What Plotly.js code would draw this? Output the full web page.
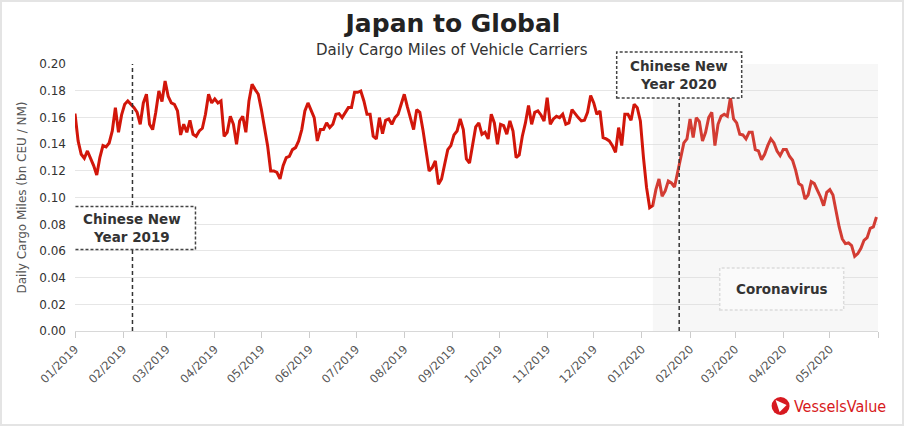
<!DOCTYPE html>
<html>
<head>
<meta charset="utf-8">
<script src="https://cdn.plot.ly/plotly-3.0.1.min.js"></script>
<style>
  html, body { margin: 0; padding: 0; background: #fff; }
  #wrap { position: relative; width: 906px; height: 427px; }
  #chart { width: 906px; height: 427px; }
  #frame { position: absolute; left: 0; top: 0; width: 904px; height: 426px; box-sizing: border-box;
           border: 2px solid #e4e4e4; pointer-events: none; }
</style>
</head>
<body>
<div id="wrap"><div id="chart"></div><div id="frame"></div></div>
<script>
// ---- data ----
const seriesStart = '2019-01-01';   // first observation
const sampleStepDays = 2;           // one value every two days
const cargoMiles = [
  0.163, 0.1425, 0.1325, 0.1295, 0.135, 0.130, 0.124, 0.117, 0.130, 0.139,
  0.138, 0.141, 0.150, 0.1675, 0.149, 0.162, 0.170, 0.1725, 0.170, 0.1675,
  0.164, 0.155, 0.171, 0.1775, 0.155, 0.151, 0.164, 0.180, 0.172, 0.1875,
  0.176, 0.171, 0.170, 0.165, 0.147, 0.155, 0.149, 0.158, 0.1475, 0.146,
  0.150, 0.152, 0.1625, 0.1775, 0.171, 0.174, 0.171, 0.1725, 0.146, 0.149,
  0.161, 0.155, 0.140, 0.1575, 0.161, 0.149, 0.1725, 0.185, 0.181, 0.1775,
  0.166, 0.151, 0.139, 0.120, 0.120, 0.119, 0.114, 0.124, 0.130, 0.131,
  0.136, 0.1375, 0.1425, 0.151, 0.165, 0.171, 0.166, 0.160, 0.1425, 0.151,
  0.151, 0.156, 0.1525, 0.155, 0.1625, 0.163, 0.160, 0.164, 0.1675, 0.1675,
  0.179, 0.179, 0.180, 0.1725, 0.1625, 0.1625, 0.146, 0.144, 0.160, 0.148,
  0.158, 0.159, 0.155, 0.160, 0.1625, 0.170, 0.1775, 0.168, 0.159, 0.151,
  0.166, 0.164, 0.151, 0.136, 0.120, 0.1225, 0.1275, 0.110, 0.114, 0.125,
  0.136, 0.139, 0.147, 0.150, 0.159, 0.151, 0.129, 0.126, 0.140, 0.153,
  0.156, 0.1475, 0.149, 0.144, 0.1625, 0.156, 0.140, 0.155, 0.154, 0.1475,
  0.1575, 0.150, 0.130, 0.132, 0.146, 0.156, 0.169, 0.155, 0.164, 0.165,
  0.162, 0.1575, 0.175, 0.155, 0.159, 0.161, 0.160, 0.1625, 0.155, 0.156,
  0.166, 0.1625, 0.160, 0.1575, 0.158, 0.164, 0.1765, 0.171, 0.1625, 0.165,
  0.145, 0.144, 0.1425, 0.139, 0.134, 0.1525, 0.139, 0.1625, 0.1625, 0.158,
  0.170, 0.1675, 0.1575, 0.130, 0.1075, 0.0925, 0.094, 0.106, 0.114, 0.101,
  0.105, 0.1125, 0.111, 0.108, 0.1195, 0.130, 0.141, 0.144, 0.159, 0.145,
  0.160, 0.157, 0.1425, 0.149, 0.160, 0.164, 0.139, 0.155, 0.161, 0.1625,
  0.161, 0.175, 0.159, 0.156, 0.1475, 0.147, 0.144, 0.149, 0.149, 0.136,
  0.135, 0.1285, 0.1325, 0.139, 0.144, 0.141, 0.135, 0.1315, 0.136, 0.136,
  0.131, 0.128, 0.1205, 0.1105, 0.109, 0.099, 0.102, 0.112, 0.1105, 0.1055,
  0.1005, 0.094, 0.104, 0.106, 0.102, 0.090, 0.078, 0.069, 0.0655, 0.066,
  0.064, 0.056, 0.058, 0.062, 0.068, 0.070, 0.077, 0.078, 0.0855
];
const tickMonths = ['2019-01-01','2019-02-01','2019-03-01','2019-04-01','2019-05-01','2019-06-01',
  '2019-07-01','2019-08-01','2019-09-01','2019-10-01','2019-11-01','2019-12-01',
  '2020-01-01','2020-02-01','2020-03-01','2020-04-01','2020-05-01','2020-06-01'];
const tickLabels = ['01/2019','02/2019','03/2019','04/2019','05/2019','06/2019',
  '07/2019','08/2019','09/2019','10/2019','11/2019','12/2019',
  '01/2020','02/2020','03/2020','04/2020','05/2020',''];
const yTicks = [0, 0.02, 0.04, 0.06, 0.08, 0.10, 0.12, 0.14, 0.16, 0.18, 0.20];
const xRange = ['2019-01-01', '2020-06-01'];
const cny2019 = '2019-02-07';
const cny2020 = '2020-01-25';
const coronaStart = '2020-01-08';
const coronaLabelDate = '2020-03-31';

// ---- build dates for the samples ----
function addDays(iso, n) {
  const d = new Date(iso + 'T00:00:00Z');
  d.setUTCDate(d.getUTCDate() + n);
  return d.toISOString().slice(0, 10);
}
const dates = cargoMiles.map((_, i) => addDays(seriesStart, i * sampleStepDays));

const RED = '#d2160a';
const FONT = 'DejaVu Sans, Verdana, sans-serif';

const trace = {
  x: dates, y: cargoMiles, type: 'scatter', mode: 'lines',
  line: { color: RED, width: 3 }, hoverinfo: 'x+y'
};

const shapes = [
  // coronavirus period shading (drawn over the line so it is tinted)
  { type: 'rect', layer: 'above', xref: 'x', yref: 'paper', x0: coronaStart, x1: xRange[1], y0: 0, y1: 1,
    fillcolor: 'rgba(215,215,215,0.2)', line: { width: 0 } },
  // Chinese New Year lines
  { type: 'line', layer: 'above', xref: 'x', yref: 'paper', x0: cny2019, x1: cny2019, y0: 0, y1: 1,
    line: { color: '#333', width: 1.5, dash: '4px,3px' } },
  { type: 'line', layer: 'above', xref: 'x', yref: 'paper', x0: cny2020, x1: cny2020, y0: 0, y1: 1,
    line: { color: '#333', width: 1.5, dash: '4px,3px' } },
  // label boxes
  { type: 'rect', layer: 'above', xref: 'x', yref: 'paper', xsizemode: 'pixel', ysizemode: 'pixel',
    xanchor: cny2019, yanchor: 0.386, x0: -62, x1: 63, y0: -21.5, y1: 21.5,
    fillcolor: '#ffffff', line: { color: '#444', width: 1.5, dash: '3px,2px' } },
  { type: 'rect', layer: 'above', xref: 'x', yref: 'paper', xsizemode: 'pixel', ysizemode: 'pixel',
    xanchor: cny2020, yanchor: 0.9588, x0: -62.5, x1: 62.5, y0: -23, y1: 23,
    fillcolor: '#ffffff', line: { color: '#444', width: 1.5, dash: '3px,2px' } },
  { type: 'rect', layer: 'above', xref: 'x', yref: 'paper', xsizemode: 'pixel', ysizemode: 'pixel',
    xanchor: coronaLabelDate, yanchor: 0.157, x0: -62, x1: 62, y0: -21, y1: 21,
    fillcolor: '#fafafa', line: { color: '#dcdcdc', width: 1.5, dash: '3px,2px' } },
  // logo mark
  { type: 'circle', layer: 'above', xref: 'paper', yref: 'paper', xsizemode: 'pixel', ysizemode: 'pixel',
    xanchor: 0.8787, yanchor: -0.2809, x0: -9, x1: 9, y0: -9, y1: 9,
    fillcolor: '#d71920', line: { width: 0 } },
  { type: 'path', layer: 'above', xref: 'paper', yref: 'paper', xsizemode: 'pixel', ysizemode: 'pixel',
    xanchor: 0.8787, yanchor: -0.2809, path: 'M -5 6 L 6 1 L -1 -6 Z',
    fillcolor: '#ffffff', line: { width: 0 } }
];

const annFont = { family: FONT, size: 13.5, color: '#333', weight: 'bold' };
const annotations = [
  { xref: 'paper', yref: 'paper', x: 0.4695, y: 1.054, text: 'Daily Cargo Miles of Vehicle Carriers',
    showarrow: false, font: { family: FONT, size: 15, color: '#333' }, xanchor: 'center', yanchor: 'middle' },
  { xref: 'x', yref: 'paper', x: cny2019, y: 0.386, text: 'Chinese New<br>Year 2019',
    showarrow: false, font: annFont, xanchor: 'center', yanchor: 'middle' },
  { xref: 'x', yref: 'paper', x: cny2020, y: 0.9588, text: 'Chinese New<br>Year 2020',
    showarrow: false, font: annFont, xanchor: 'center', yanchor: 'middle' },
  { xref: 'x', yref: 'paper', x: coronaLabelDate, y: 0.157, text: 'Coronavirus',
    showarrow: false, font: annFont, xanchor: 'center', yanchor: 'middle' },
  { xref: 'paper', yref: 'paper', x: 0.893, y: -0.2809, text: 'VesselsValue',
    showarrow: false, font: { family: 'DejaVu Sans Condensed, DejaVu Sans', size: 16, color: '#d71920' },
    xanchor: 'left', yanchor: 'middle' }
];

const layout = {
  width: 906, height: 427,
  margin: { l: 75, r: 28, t: 64, b: 96 },
  paper_bgcolor: '#ffffff', plot_bgcolor: '#ffffff',
  font: { family: FONT, color: '#333' },
  showlegend: false,
  title: { text: 'Japan to Global', x: 0.5, xref: 'container', y: 0.945, yref: 'container',
           xanchor: 'center', yanchor: 'middle',
           font: { family: FONT, size: 25, color: '#222', weight: 'bold' } },
  xaxis: {
    type: 'date', range: xRange, tickvals: tickMonths, ticktext: tickLabels,
    tickangle: -45, tickfont: { family: FONT, size: 11.5, color: '#555' },
    showgrid: false, showline: true, linecolor: '#d8d8d8', linewidth: 1,
    ticks: 'outside', ticklen: 6, tickcolor: '#cccccc', zeroline: false
  },
  yaxis: {
    range: [0, 0.2002], tickvals: yTicks, tickformat: '.2f',
    tickfont: { family: FONT, size: 12, color: '#333' },
    gridcolor: '#e6e6e6', gridwidth: 1, zeroline: false, showline: false, ticks: '',
    ticklabelstandoff: 8,
    title: { text: 'Daily Cargo Miles (bn CEU / NM)', standoff: 10,
             font: { family: FONT, size: 12, color: '#555' } }
  },
  shapes: shapes,
  annotations: annotations
};

Plotly.newPlot('chart', [trace], layout, { displayModeBar: false, staticPlot: true });
</script>
</body>
</html>
